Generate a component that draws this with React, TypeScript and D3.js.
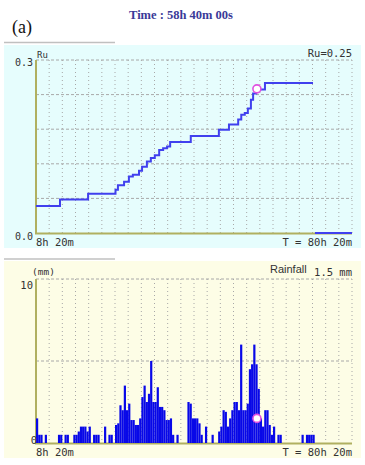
import * as d3 from 'd3';
import React from 'react';

// Ru (pore pressure ratio) step record: hour -> value held until next hour
const ruHours = [8.33, 13.8, 20.2, 26.45, 27.0, 28.4, 29.5, 30.4, 31.8, 32.5, 33.6, 34.5, 35.4, 36.4, 37.3, 38.2, 38.9, 43.6, 50.0, 52.3, 54.4, 55.1, 55.9, 56.6, 57.3, 57.8, 58.5, 60.5, 71.45];
const ruValues = [0.047, 0.058, 0.068, 0.075, 0.083, 0.089, 0.098, 0.101, 0.108, 0.115, 0.124, 0.13, 0.135, 0.144, 0.147, 0.15, 0.158, 0.168, 0.179, 0.188, 0.197, 0.205, 0.208, 0.216, 0.231, 0.242, 0.249, 0.26, 0.26];
const ruTailHours = [71.9, 80.33];
const ruTailValues = [0, 0];

// rainfall (mm) every 30 min from 8h20m
const rainStart = 8.333;
const rainStep = 0.5;
const rainValues = [
  1.5, 0.5, 0.5, 0, 0.5, 0, 0, 0, 0, 0,
  0.5, 0.5, 0, 0.5, 0.5, 0, 0, 0.5, 0.5, 0.7,
  1.0, 1.0, 1.0, 0.7, 1.0, 0, 0.5, 0.5, 0.5, 0,
  0, 1.0, 0, 0.5, 0.5, 0, 1.1, 1.2, 2.3, 2.0,
  3.5, 2.0, 2.4, 1.4, 1.4, 1.1, 1.1, 1.5, 2.8, 3.5,
  2.5, 3.0, 5.0, 2.5, 2.5, 3.4, 2.2, 2.2, 2.0, 1.4,
  1.4, 1.5, 0.5, 0, 0.5, 0, 0, 0, 0, 2.5,
  2.4, 1.5, 1.5, 1.5, 1.2, 0.5, 0, 1.0, 0, 0,
  0.5, 0, 0, 0.7, 1.0, 2.0, 1.9, 1.0, 1.5, 2.0,
  2.5, 2.5, 2.0, 6.0, 2.0, 2.0, 2.4, 4.5, 4.8, 6.0,
  4.8, 3.3, 1.5, 1.0, 2.0, 2.0, 1.1, 0.5, 1.0, 0,
  0.5, 0.5, 0, 0, 0, 0, 0, 0, 0, 0,
  0, 0.5, 0, 0.5, 0.5, 0.5, 0.5, 0,
];

const nowHour = 58.667;
const nowRu = 0.25;
const nowRain = 1.5;
const timeDomain = [8.333, 80.333];

const mono = '"DejaVu Sans Mono", monospace';
const axisColor = '#b0b060';
const gridColor = '#a8a8a8';
const lineBlue = '#4040ee';
const barBlue = '#0808e8';

const x = d3.scaleLinear().domain(timeDomain).range([36, 352]);
const yRu = d3.scaleLinear().domain([0, 0.3]).range([233, 60]);
const yRain = d3.scaleLinear().domain([0, 10]).range([443, 279]);

const vTicks = d3.range(1, 25).map(i => timeDomain[0] + i * 3);

const Grid = ({ y, hTicks }) => (
  <g>
    {vTicks.map((t, i) => (
      <line key={'v' + i} x1={x(t)} x2={x(t)} y1={y.range()[1]} y2={y.range()[0]}
        stroke={gridColor} strokeWidth={1} strokeDasharray="1 3" />
    ))}
    {hTicks.map((t, i) => (
      <line key={'h' + i} x1={x.range()[0]} x2={x.range()[1]} y1={y(t)} y2={y(t)}
        stroke={gridColor} strokeWidth={1} strokeDasharray="3 2" />
    ))}
    <line x1={36} x2={36} y1={y.range()[1]} y2={y.range()[0] + 1} stroke={axisColor} strokeWidth={2} />
    <line x1={35} x2={352} y1={y.range()[0] + 0.5} y2={y.range()[0] + 0.5} stroke={axisColor} strokeWidth={2} />
  </g>
);

export default function App() {
  const ruLine = d3.line<number>()
    .x((d, i) => x(ruHours[i]))
    .y(d => yRu(d))
    .curve(d3.curveStepAfter);
  const tailLine = d3.line<number>()
    .x((d, i) => x(ruTailHours[i]))
    .y(d => yRu(d));
  const barW = x(rainStart + rainStep) - x(rainStart);

  return (
    <svg width={365} height={465} style={{ position: 'absolute', left: 0, top: 0, background: '#fff' }}>
      {/* header */}
      <text x={12} y={33} fontFamily='"Liberation Serif", serif' fontSize={18} fill="#111">(a)</text>
      <text x={181} y={19} textAnchor="middle" fontFamily='"Liberation Serif", serif' fontWeight="bold"
        fontSize={12.5} fill="#3a3a98">Time : 58h 40m 00s</text>

      {/* top panel */}
      <line x1={4} x2={115} y1={42.5} y2={42.5} stroke="#c0c0c0" strokeWidth={1.5} />
      <rect x={4} y={45} width={357} height={203} fill="#e6fdfd" />
      <Grid y={yRu} hTicks={d3.range(0.06, 0.31, 0.06)} />
      <path d={ruLine(ruValues) || ''} fill="none" stroke={lineBlue} strokeWidth={2} />
      <path d={tailLine(ruTailValues) || ''} fill="none" stroke={lineBlue} strokeWidth={2} />
      <circle cx={x(nowHour)} cy={yRu(nowRu)} r={4} fill="#fff" stroke="#e050e0" strokeWidth={1.6} />
      <text x={33} y={66} textAnchor="end" fontFamily={mono} fontSize={10} fill="#333">0.3</text>
      <text x={33} y={240} textAnchor="end" fontFamily={mono} fontSize={10} fill="#333">0.0</text>
      <text x={37} y={58} fontFamily={mono} fontSize={9} fill="#333">Ru</text>
      <text x={352} y={57} textAnchor="end" fontFamily={mono} fontSize={10.5} fill="#333">Ru=0.25</text>
      <text x={36} y={246} fontFamily={mono} fontSize={10.5} fill="#333">8h 20m</text>
      <text x={352} y={246} textAnchor="end" fontFamily={mono} fontSize={10.5} fill="#333">T = 80h 20m</text>

      {/* bottom panel */}
      <line x1={4} x2={115} y1={259} y2={259} stroke="#c0c0c0" strokeWidth={1.5} />
      <rect x={4} y={261} width={357} height={197} fill="#fdfde6" />
      <Grid y={yRain} hTicks={[5, 10]} />
      {rainValues.map((v, i) => v > 0 && (
        <rect key={i} x={x(rainStart + i * rainStep)} y={yRain(v)} width={barW}
          height={yRain(0) - yRain(v)} fill={barBlue} />
      ))}
      <circle cx={x(nowHour)} cy={yRain(nowRain)} r={4} fill="#fff" stroke="#e050e0" strokeWidth={1.6} />
      <text x={33} y={289} textAnchor="end" fontFamily={mono} fontSize={10.5} fill="#333">10</text>
      <text x={37} y={444} textAnchor="end" fontFamily={mono} fontSize={10.5} fill="#333">0</text>
      <text x={32} y={275} fontFamily={mono} fontSize={9.5} fill="#333">(mm)</text>
      <text x={270} y={273} fontFamily='"Liberation Sans", sans-serif' fontSize={11} fill="#333">Rainfall</text>
      <text x={352} y={276} textAnchor="end" fontFamily={mono} fontSize={10.5} fill="#333">1.5 mm</text>
      <text x={36} y={456} fontFamily={mono} fontSize={10.5} fill="#333">8h 20m</text>
      <text x={352} y={456} textAnchor="end" fontFamily={mono} fontSize={10.5} fill="#333">T = 80h 20m</text>
    </svg>
  );
}
